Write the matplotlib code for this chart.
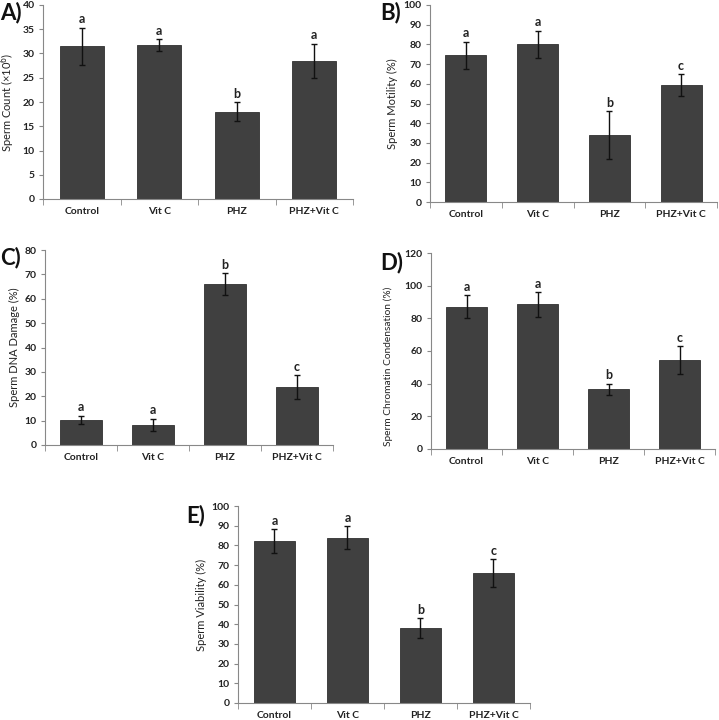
import matplotlib
matplotlib.use("Agg")
import matplotlib.pyplot as plt
import numpy as np

plt.rcParams['font.family'] = ['Lato', 'DejaVu Sans']

groups = ["Control", "Vit C", "PHZ", "PHZ+Vit C"]

count_mean = [31.5, 31.8, 18.0, 28.5]
count_err = [3.8, 1.2, 2.0, 3.5]
count_sig = ["a", "a", "b", "a"]

motility_mean = [74.5, 80.0, 34.0, 59.5]
motility_err = [6.8, 7.0, 12.0, 5.5]
motility_sig = ["a", "a", "b", "c"]

dna_mean = [10.3, 8.3, 66.0, 23.7]
dna_err = [1.8, 2.5, 4.5, 5.0]
dna_sig = ["a", "a", "b", "c"]

chrom_mean = [87.0, 88.5, 36.5, 54.5]
chrom_err = [7.0, 7.5, 3.5, 8.5]
chrom_sig = ["a", "a", "b", "c"]

viab_mean = [82.3, 84.0, 38.0, 66.0]
viab_err = [6.0, 5.8, 5.0, 7.0]
viab_sig = ["a", "a", "b", "c"]

W, H = 719, 720
fig = plt.figure(figsize=(W / 100, H / 100), dpi=100)


def panel(box, means, errs, sig, ylabel, ymax, step, tag, tagpos, labx, laby=0.5, labsize=8):
    left, right, top, bottom = box
    ax = fig.add_axes([left / W, 1 - bottom / H, (right - left) / W, (bottom - top) / H])
    x = np.arange(len(groups))
    ax.bar(x, means, width=0.57, color="#404040", edgecolor="#303030", linewidth=0.6, zorder=2)
    ax.errorbar(x, means, yerr=errs, fmt="none", ecolor="#111111", elinewidth=1.0,
                capsize=2.5, capthick=1.0, zorder=3)
    for xi, m, e, s in zip(x, means, errs, sig):
        ax.text(xi, m + e + ymax * 0.012, s, ha="center", va="bottom",
                fontsize=9, fontweight="bold", color="#222222")
    ax.set_xlim(-0.5, 3.5)
    ax.set_ylim(0, ymax)
    ax.set_yticks(np.arange(0, ymax + 0.1, step))
    ax.set_xticks(x)
    ax.set_xticklabels(groups)
    ax.set_xticks(np.arange(-0.5, 3.6, 1.0), minor=True)
    ax.tick_params(axis="x", which="major", length=0, pad=6, labelsize=7.5)
    ax.tick_params(axis="x", which="minor", length=4, color="#888888", direction="out")
    ax.tick_params(axis="y", length=3, color="#888888", labelsize=7.5, pad=3)
    for lab in ax.get_xticklabels() + ax.get_yticklabels():
        lab.set_fontweight("bold")
        lab.set_color("#222222")
    for sp in ["top", "right"]:
        ax.spines[sp].set_visible(False)
    for sp in ["left", "bottom"]:
        ax.spines[sp].set_color("#888888")
        ax.spines[sp].set_linewidth(0.8)
    ax.set_ylabel(ylabel, fontsize=labsize, color="#222222")
    ax.yaxis.set_label_coords((labx - left) / (right - left), laby)
    fig.text(tagpos[0] / W, 1 - tagpos[1] / H, tag, fontsize=16, fontweight="bold",
             ha="left", va="top", color="#111111")
    return ax


panel((43, 353, 5, 199), count_mean, count_err, count_sig,
      "Sperm Count (\u00d710$^6$)", 40, 5, "A)", (0, 2), 17)
panel((430, 717, 5, 202), motility_mean, motility_err, motility_sig,
      "Sperm Motility (%)", 100, 10, "B)", (380, 2), 398)
panel((45, 333, 250, 445), dna_mean, dna_err, dna_sig,
      "Sperm DNA Damage (%)", 80, 10, "C)", (0, 247), 20)
panel((431, 715, 253, 449), chrom_mean, chrom_err, chrom_sig,
      "Sperm Chromatin Condensation (%)", 120, 20, "D)", (380, 252), 393,
      laby=0.42, labsize=7.3)
panel((238, 530, 506, 703), viab_mean, viab_err, viab_sig,
      "Sperm Viability (%)", 100, 10, "E)", (186, 505), 207)

fig.savefig("out.png", dpi=100)
